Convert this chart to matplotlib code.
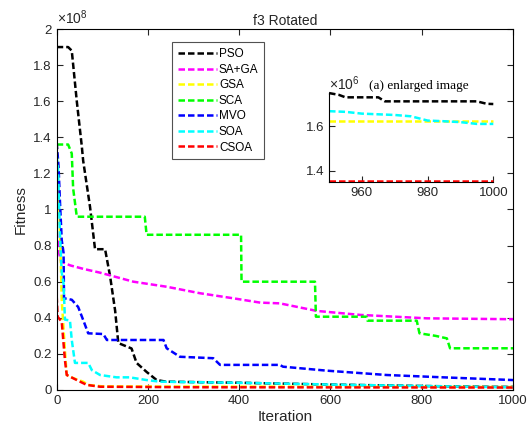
import numpy as np
import matplotlib
matplotlib.use("Agg")
import matplotlib.pyplot as plt

plt.rcParams['font.family'] = ['Liberation Sans', 'DejaVu Sans']
plt.rcParams['mathtext.fontset'] = 'custom'
plt.rcParams['mathtext.rm'] = 'Liberation Sans'

# convergence curves, fitness in units of 1e8
names = ["PSO", "SA+GA", "GSA", "SCA", "MVO", "SOA", "CSOA"]
colors = ["#000000", "#ff00ff", "#ffff00", "#00ff00", "#0000ff", "#00ffff", "#ff0000"]

pso_it = [0, 25, 33, 44, 55, 58, 73, 84, 106, 117, 128, 135, 164, 175, 197, 219, 240, 400, 600, 800, 950, 1000]
pso_val = [1.90, 1.90, 1.88, 1.60, 1.35, 1.27, 1.015, 0.78, 0.78, 0.63, 0.44, 0.26, 0.23, 0.15, 0.10, 0.055,
           0.046, 0.04, 0.03, 0.022, 0.0175, 0.017]
saga_it = [0, 3, 6, 10, 30, 60, 95, 168, 241, 314, 387, 446, 489, 570, 665, 811, 1000]
saga_val = [0.88, 0.80, 0.75, 0.71, 0.69, 0.67, 0.65, 0.60, 0.572, 0.536, 0.508, 0.484, 0.48, 0.438, 0.416,
            0.397, 0.392]
gsa_it = [0, 4, 7, 11, 18, 22, 36, 58, 69, 100, 1000]
gsa_val = [1.37, 1.2, 0.9, 0.5, 0.22, 0.083, 0.066, 0.046, 0.028, 0.02, 0.01625]
sca_it = [0, 25, 33, 36, 44, 193, 197, 404, 405, 566, 568, 679, 681, 789, 795, 830, 855, 862, 1000]
sca_val = [1.36, 1.36, 1.31, 1.117, 0.96, 0.96, 0.86, 0.86, 0.60, 0.60, 0.406, 0.406, 0.384, 0.384, 0.314,
           0.30, 0.286, 0.231, 0.231]
mvo_it = [0, 4, 7, 11, 15, 16, 33, 47, 58, 69, 102, 110, 234, 241, 270, 343, 358, 489, 496, 592, 723, 847, 1000]
mvo_val = [1.37, 1.24, 1.05, 0.83, 0.76, 0.508, 0.5, 0.46, 0.388, 0.314, 0.31, 0.277, 0.277, 0.231, 0.184,
           0.176, 0.139, 0.139, 0.129, 0.107, 0.083, 0.07, 0.055]
soa_it = [0, 3, 7, 11, 15, 18, 29, 33, 40, 69, 77, 95, 131, 160, 197, 226, 400, 600, 800, 950, 1000]
soa_val = [1.30, 1.22, 0.87, 0.65, 0.59, 0.39, 0.385, 0.277, 0.15, 0.15, 0.11, 0.083, 0.07, 0.07, 0.055,
           0.046, 0.04, 0.03, 0.022, 0.01667, 0.0161]
csoa_it = [0, 2, 11, 18, 22, 44, 66, 95, 300, 1000]
csoa_val = [0.52, 0.406, 0.378, 0.166, 0.083, 0.055, 0.028, 0.018, 0.015, 0.01353]

# enlarged view, fitness in units of 1e6
z_pso_it = [950, 953, 955, 965, 967, 995, 998, 1000]
z_pso_val = [1.748, 1.74, 1.729, 1.729, 1.711, 1.711, 1.70, 1.699]
z_gsa_it = [950, 1000]
z_gsa_val = [1.625, 1.625]
z_soa_it = [950, 955, 960, 970, 975, 980, 985, 990, 995, 1000]
z_soa_val = [1.667, 1.664, 1.656, 1.650, 1.644, 1.625, 1.622, 1.618, 1.610, 1.610]
z_csoa_it = [950, 1000]
z_csoa_val = [1.353, 1.353]

curves = [(pso_it, pso_val), (saga_it, saga_val), (gsa_it, gsa_val), (sca_it, sca_val),
          (mvo_it, mvo_val), (soa_it, soa_val), (csoa_it, csoa_val)]
zoom_curves = [(z_pso_it, z_pso_val, 0), (z_gsa_it, z_gsa_val, 2), (z_soa_it, z_soa_val, 5),
               (z_csoa_it, z_csoa_val, 6)]

ls = (0, (2.6, 1.2))
lw = 1.8

fig = plt.figure(figsize=(5.29, 4.37), dpi=100)
ax = fig.add_axes([0.1072, 0.1076, 0.8626, 0.8260])
for (it, val), c, n in zip(curves, colors, names):
    ax.plot(it, val, color=c, lw=lw, ls=ls, label=n)

ax.set_xlim(0, 1000)
ax.set_ylim(0, 2)
yt = np.arange(0, 2.01, 0.2)
ax.set_yticks(yt)
ax.set_yticklabels(['%g' % round(v, 1) for v in yt])
ax.set_xticks([0, 200, 400, 600, 800, 1000])
ax.tick_params(direction='in', top=True, right=True, labelsize=9.5, length=4, colors='#262626')
for s in ax.spines.values():
    s.set_linewidth(0.8)
ax.set_xlabel("Iteration", fontsize=11, color='#262626', labelpad=2)
ax.set_ylabel("Fitness", fontsize=11, color='#262626', labelpad=4)
ax.set_title("f3 Rotated", fontsize=10, color='#262626', pad=3)
ax.text(0.0, 1.005, r'$\times\mathregular{10^{8}}$', transform=ax.transAxes, fontsize=10,
        color='#262626', va='bottom', ha='left')

leg = ax.legend(loc='upper left', bbox_to_anchor=(0.252, 0.963), borderaxespad=0, fontsize=8.5,
                handlelength=3.3, handletextpad=0.2, labelspacing=0.3, fancybox=False,
                edgecolor='#262626', borderpad=0.5)
leg.get_frame().set_linewidth(0.8)

# enlarged image inset
axi = fig.add_axes([0.622, 0.5835, 0.3105, 0.2035])
for it, val, k in zoom_curves:
    axi.plot(it, val, color=colors[k], lw=lw, ls=ls, clip_on=False)
axi.set_xlim(950, 1000)
axi.set_ylim(1.350, 1.748)
axi.set_xticks([960, 980, 1000])
axi.set_yticks([1.4, 1.6])
axi.spines['top'].set_visible(False)
axi.spines['right'].set_visible(False)
axi.tick_params(direction='in', labelsize=9.5, length=4, colors='#262626')
axi.text(0.0, 1.005, r'$\times\mathregular{10^{6}}$', transform=axi.transAxes, fontsize=10,
         color='#262626', va='bottom', ha='left')
axi.text(0.245, 1.01, "(a) enlarged image", transform=axi.transAxes, fontsize=9.5,
         family='Liberation Serif', va='bottom', ha='left')

fig.savefig("out.png", dpi=100)
